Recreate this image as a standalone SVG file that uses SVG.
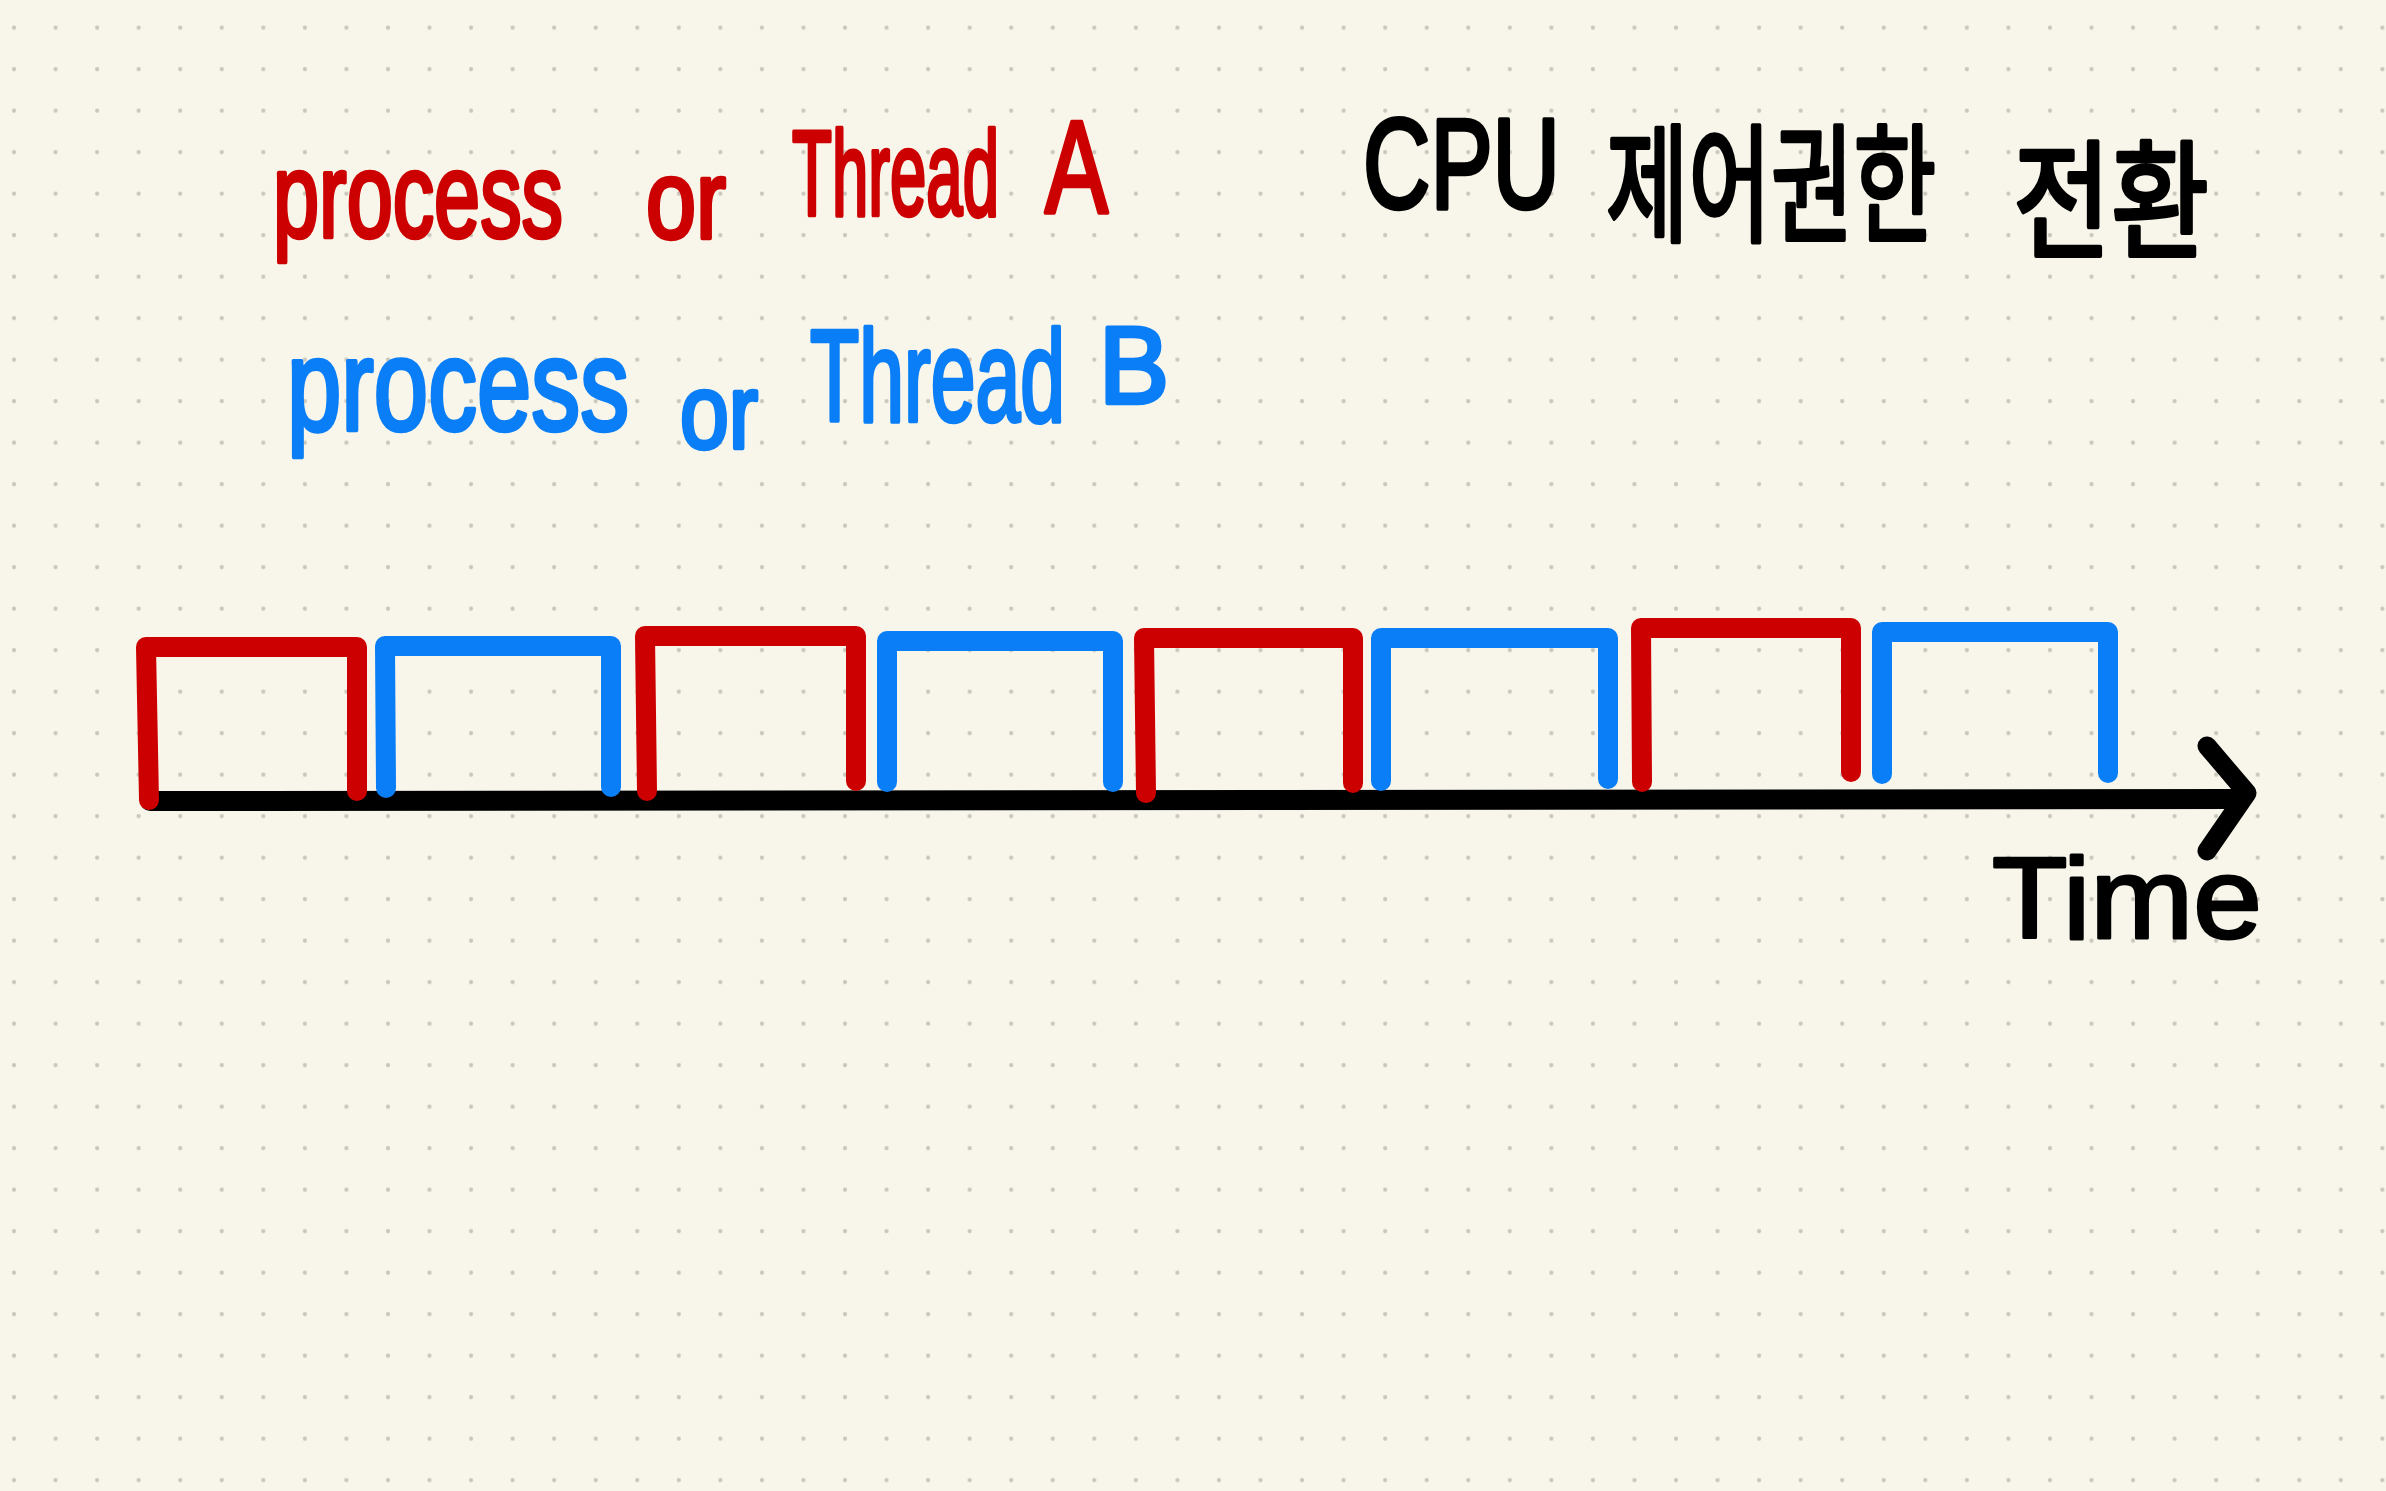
<svg xmlns="http://www.w3.org/2000/svg" width="2386" height="1491" viewBox="0 0 2386 1491">
<defs>
<pattern id="dots" patternUnits="userSpaceOnUse" x="-6.78" y="6.95" width="41.55" height="41.5">
<circle cx="20.78" cy="20.75" r="2.1" fill="#c9c6bc"/>
</pattern>
<style>
.hand{font-family:"Liberation Sans","Noto Sans CJK KR",sans-serif;stroke-linejoin:round;paint-order:stroke}
.red{fill:#cc0000;stroke:#cc0000;stroke-width:3}
.blue{fill:#0a7ef6;stroke:#0a7ef6;stroke-width:3}
.ink{fill:#000;stroke:#000;stroke-width:3}
.pulse{fill:none;stroke-width:20;stroke-linecap:round;stroke-linejoin:round}
.pa{stroke:#cc0000}
.pb{stroke:#0a7ef6}
.axis{fill:none;stroke:#000;stroke-linecap:round;stroke-linejoin:round}
</style>
</defs>
<rect width="2386" height="1491" fill="#f8f6eb"/>
<rect width="2386" height="1491" fill="url(#dots)"/>

<g id="label-a">
<text class="hand red" font-size="80" transform="matrix(1,0,0,1.5,0,-115)"><tspan x="273" y="234.67" textLength="290" lengthAdjust="spacingAndGlyphs">process</tspan> <tspan x="646" y="235.33" font-size="74.7" textLength="80" lengthAdjust="spacingAndGlyphs">or</tspan> <tspan x="792" y="220" textLength="207" lengthAdjust="spacingAndGlyphs">Thread</tspan> <tspan x="1045" y="218.67" font-size="88" textLength="63" lengthAdjust="spacingAndGlyphs">A</tspan></text>
</g>
<g id="label-b">
<text class="hand blue" font-size="86.7" transform="matrix(1,0,0,1.5,0,-212.5)"><tspan x="287" y="428.33" textLength="342" lengthAdjust="spacingAndGlyphs">process</tspan> <tspan x="680" y="440.33" font-size="70" textLength="78" lengthAdjust="spacingAndGlyphs">or</tspan> <tspan x="810" y="422.33" textLength="255" lengthAdjust="spacingAndGlyphs">Thread</tspan> <tspan x="1099" y="410.33" font-size="73.3" textLength="70" lengthAdjust="spacingAndGlyphs">B</tspan></text>
</g>
<g id="title">
<text class="hand ink" font-size="85.3" transform="matrix(1,0,0,1.5,0,-115)"><tspan x="1363" y="215.33" textLength="197" lengthAdjust="spacingAndGlyphs">CPU</tspan> <tspan x="1606" y="231.33" textLength="330" lengthAdjust="spacingAndGlyphs">제어권한</tspan> <tspan x="2013" y="242" textLength="196" lengthAdjust="spacingAndGlyphs">전환</tspan></text>
</g>

<g id="connectors">
<path id="time-axis" class="axis" stroke-width="20" d="M150,801 L2238,799"/>
<path id="time-arrowhead" class="axis" stroke-width="19" d="M2207,746 L2247,793 L2207,851"/>
</g>

<g id="slice-a1"><path class="pulse pa" d="M149,800 L146,647 L357,647 L357,791"/></g>
<g id="slice-b1"><path class="pulse pb" d="M386,788 L385,646 L611,646 L611,787"/></g>
<g id="slice-a2"><path class="pulse pa" d="M647,791 L645,636 L856,636 L856,781"/></g>
<g id="slice-b2"><path class="pulse pb" d="M887,782 L887,641 L1113,641 L1113,782"/></g>
<g id="slice-a3"><path class="pulse pa" d="M1146,793 L1144,638 L1353,638 L1353,783"/></g>
<g id="slice-b3"><path class="pulse pb" d="M1381,781 L1381,638 L1608,638 L1608,779"/></g>
<g id="slice-a4"><path class="pulse pa" d="M1642,782 L1641,628 L1851,628 L1851,772"/></g>
<g id="slice-b4"><path class="pulse pb" d="M1882,774 L1882,632 L2108,632 L2108,773"/></g>

<g id="time-label">
<text class="hand ink" font-size="115" x="1992" y="938" textLength="270" lengthAdjust="spacingAndGlyphs">Time</text>
</g>
</svg>
